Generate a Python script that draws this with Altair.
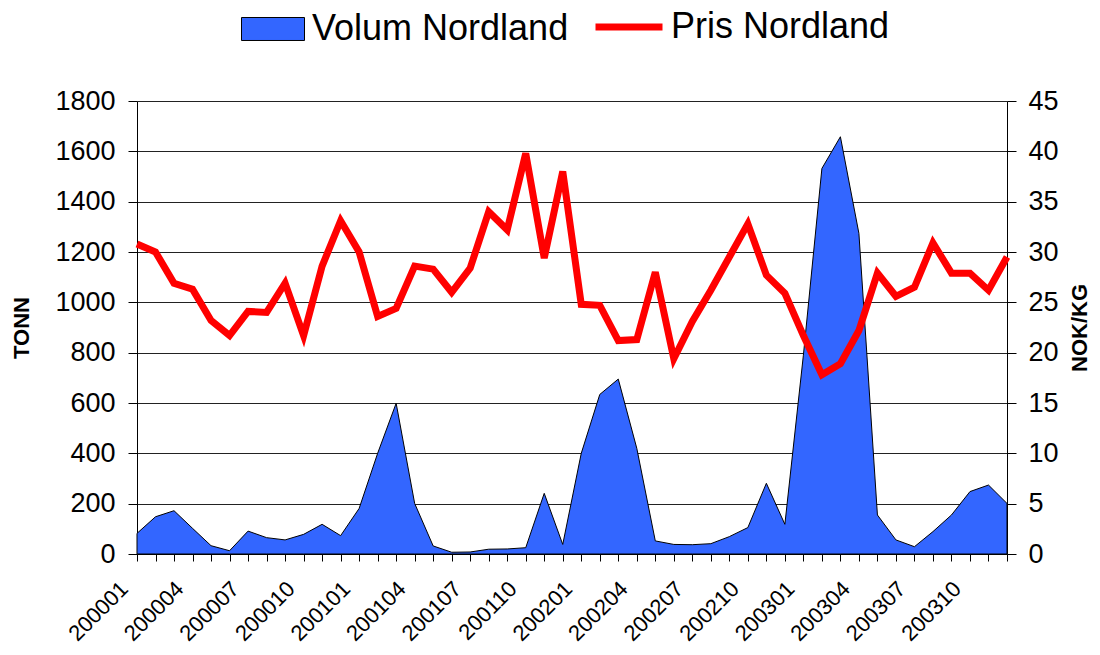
import altair as alt
import pandas as pd

months = [
    "200001", "200002", "200003", "200004", "200005", "200006", "200007", "200008", "200009", "200010", "200011", "200012",
    "200101", "200102", "200103", "200104", "200105", "200106", "200107", "200108", "200109", "200110", "200111", "200112",
    "200201", "200202", "200203", "200204", "200205", "200206", "200207", "200208", "200209", "200210", "200211", "200212",
    "200301", "200302", "200303", "200304", "200305", "200306", "200307", "200308", "200309", "200310", "200311", "200312",
]
shown_labels = ["200001", "200004", "200007", "200010", "200101", "200104", "200107", "200110",
                "200201", "200204", "200207", "200210", "200301", "200304", "200307", "200310"]

volum = [82, 148, 172, 102, 33, 13, 91, 65, 56, 78, 118, 73,
         181, 400, 599, 201, 32, 7, 8, 19, 20, 25, 241, 38,
         400, 634, 695, 420, 52, 38, 37, 41, 69, 105, 281, 118,
         790, 1532, 1658, 1274, 155, 56, 29, 89, 155, 248, 274, 201]
pris = [30.8, 30.0, 26.9, 26.3, 23.2, 21.7, 24.1, 24.0, 26.9, 21.7, 28.6, 33.1,
        30.0, 23.6, 24.4, 28.6, 28.3, 26.0, 28.4, 34.0, 32.2, 39.8, 29.4, 38.0,
        24.8, 24.7, 21.2, 21.3, 28.0, 19.4, 23.1, 26.2, 29.5, 32.8, 27.7, 25.9,
        21.7, 17.8, 18.9, 22.2, 27.9, 25.6, 26.5, 30.9, 27.9, 27.9, 26.2, 29.5]

left_ticks = [0, 200, 400, 600, 800, 1000, 1200, 1400, 1600, 1800]
right_ticks = [0, 5, 10, 15, 20, 25, 30, 35, 40, 45]

df = pd.DataFrame({"mnd": months, "volum": volum, "pris": pris})

FONT = "Liberation Sans"
label_list = ",".join("'" + s + "'" for s in shown_labels)

x = alt.X(
    "mnd:O",
    sort=months,
    scale=alt.Scale(type="point", padding=0),
    axis=alt.Axis(
        title=None,
        labelExpr=f"indexof([{label_list}], datum.value) >= 0 ? datum.value : ''",
        labelAngle=-45,
        labelAlign="right",
        labelBaseline="middle",
        labelFontSize=22,
        labelFont=FONT,
        labelColor="black",
        labelPadding=24,
        labelOffset=-13,
        tickSize=7,
        tickColor="black",
        domainColor="black",
        grid=False,
        labelOverlap=False,
    ),
)

area = alt.Chart(df).mark_area(stroke="black", strokeWidth=1, opacity=1).encode(
    x=x,
    y=alt.Y(
        "volum:Q",
        scale=alt.Scale(domain=[0, 1800], nice=False),
        axis=alt.Axis(
            orient="left",
            values=left_ticks,
            format="d",
            title="TONN",
            titleFont=FONT,
            titleFontSize=22,
            titleFontWeight="bold",
            titleColor="black",
            titlePadding=21,
            labelFont=FONT,
            labelFontSize=27,
            labelColor="black",
            labelPadding=13,
            tickSize=9,
            tickColor="black",
            domainColor="black",
            grid=True,
            gridColor="#222222",
            gridWidth=1,
        ),
    ),
    fill=alt.Fill(
        "s:N",
        scale=alt.Scale(domain=["Volum Nordland"], range=["#3366FF"]),
        legend=alt.Legend(
            title=None,
            orient="none",
            legendX=104,
            legendY=-104,
            symbolType="M-1,-0.365L1,-0.365L1,0.365L-1,0.365Z",
            symbolSize=3969,
            symbolStrokeColor="black",
            symbolStrokeWidth=1,
            labelFont=FONT,
            labelFontSize=36,
            labelColor="black",
            labelOffset=7,
            labelLimit=600,
        ),
    ),
).transform_calculate(s="'Volum Nordland'")

line = alt.Chart(df).mark_line(strokeWidth=7, strokeJoin="miter").encode(
    x=x,
    y=alt.Y(
        "pris:Q",
        scale=alt.Scale(domain=[0, 45], nice=False),
        axis=alt.Axis(
            orient="right",
            values=right_ticks,
            title="NOK/KG",
            titleAngle=-90,
            titleBaseline="top",
            titleFont=FONT,
            titleFontSize=22,
            titleFontWeight="bold",
            titleColor="black",
            titlePadding=11,
            labelFont=FONT,
            labelFontSize=27,
            labelColor="black",
            labelPadding=12,
            tickSize=9,
            tickColor="black",
            domainColor="black",
            grid=False,
        ),
    ),
    stroke=alt.Stroke(
        "p:N",
        scale=alt.Scale(domain=["Pris Nordland"], range=["#FF0000"]),
        legend=alt.Legend(
            title=None,
            orient="none",
            legendX=455,
            legendY=-111,
            symbolType="M-1,0L1,0",
            symbolSize=4489,
            symbolStrokeWidth=7,
            labelFont=FONT,
            labelFontSize=36,
            labelColor="black",
            labelOffset=5,
            labelLimit=600,
        ),
    ),
).transform_calculate(p="'Pris Nordland'")

chart = (
    alt.layer(area, line)
    .resolve_scale(y="independent", fill="independent", stroke="independent")
    .properties(
        width=870,
        height=453,
        autosize=alt.AutoSizeParams(type="none"),
        padding={"left": 129, "top": 93, "right": 85, "bottom": 93},
        background="white",
    )
    .configure_view(stroke=None)
)

chart.save("out.html", embed_options={"renderer": "svg", "actions": False})
